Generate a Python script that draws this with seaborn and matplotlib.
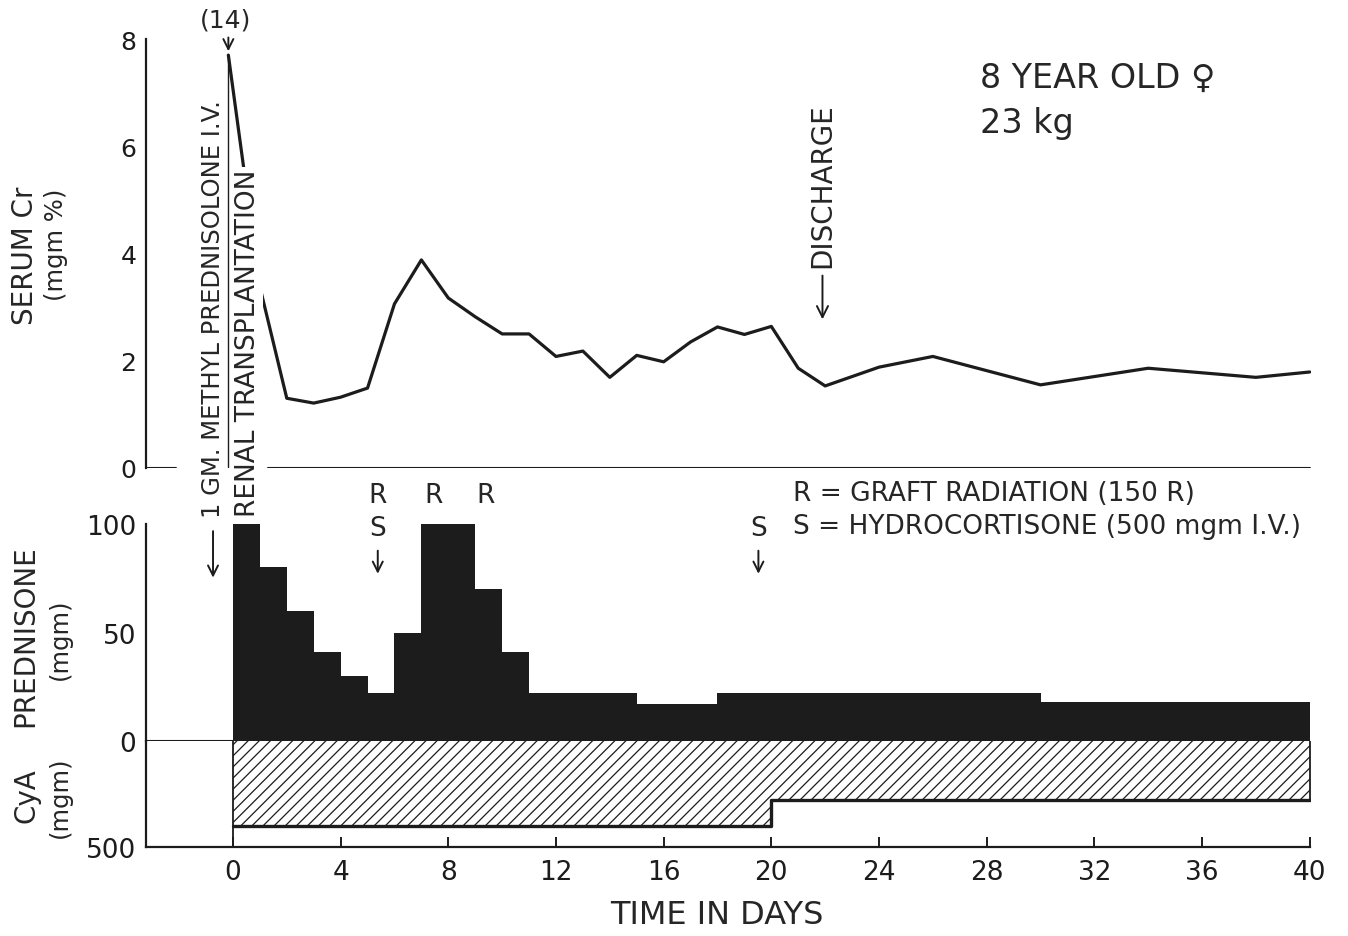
import matplotlib
matplotlib.use("Agg")
import matplotlib.pyplot as plt
import seaborn as sns

# serum creatinine (mgm %); first point is the off-scale (14) value, drawn at the top
cr_days = [-0.17, 1, 2, 3, 4, 5, 6, 7, 8, 9, 10, 11, 12, 13, 14, 15, 16, 17, 18, 19, 20,
           21, 22, 24, 26, 30, 34, 38, 40]
cr_vals = [7.7, 3.38, 1.30, 1.21, 1.32, 1.49, 3.06, 3.88, 3.17, 2.82, 2.5, 2.5, 2.08, 2.18,
           1.69, 2.1, 1.98, 2.35, 2.63, 2.49, 2.64, 1.86, 1.53, 1.88, 2.08, 1.55, 1.86, 1.69, 1.79]

# prednisone (mgm), step starts
pred_days = [0, 1, 2, 3, 4, 5, 6, 7, 9, 10, 11, 15, 18, 30, 40]
pred_dose = [100, 80, 60, 41, 30, 22, 50, 100, 70, 41, 22, 17, 22, 18, 18]

# cyclosporin A (mgm), step starts
cya_days = [0, 20, 40]
cya_dose = [400, 280, 280]

# event markers
r_days = [5.38, 7.46, 9.39]
s_days = [5.38, 19.52]
discharge_day = 21.9
methylpred_day = -0.74

x_ticks = list(range(0, 41, 4))

sns.set_theme(style="white")
plt.rcParams["font.family"] = ["DejaVu Sans"]
plt.rcParams["hatch.color"] = "black"
plt.rcParams["hatch.linewidth"] = 0.9

INK = "#1c1c1c"
XMIN, XMAX = -3.23, 40.05

fig = plt.figure(figsize=(13.48, 9.37), dpi=100)
ax_cr = fig.add_axes([0.1083, 0.4995, 0.8643, 0.4578])
ax_pr = fig.add_axes([0.1083, 0.2081, 0.8643, 0.2316])
ax_cy = fig.add_axes([0.1083, 0.0950, 0.8643, 0.1131])

for ax in (ax_cr, ax_pr, ax_cy):
    ax.set_xlim(XMIN, XMAX)
    ax.set_facecolor("none")
    for s in ("top", "right", "bottom"):
        ax.spines[s].set_visible(False)
    ax.spines["left"].set_linewidth(1.6)
    ax.spines["left"].set_color(INK)
    ax.tick_params(axis="y", direction="in", length=6, width=1.4, color=INK,
                   labelsize=19, pad=7, labelcolor=INK)
    ax.set_xticks([])

##### serum creatinine #####
sns.lineplot(x=cr_days, y=cr_vals, ax=ax_cr, color=INK, lw=2.3, sort=False, zorder=2)
ax_cr.set_ylim(0, 8)
ax_cr.set_yticks([0, 2, 4, 6, 8])
ax_cr.set_yticklabels(["0", "2", "4", "6", "8"], fontsize=18)
ax_cr.plot([XMIN, -2.1], [0, 0], color=INK, lw=1.5)
ax_cr.plot([1.3, 40], [0, 0], color=INK, lw=1.5)
# divider between the two day-0 notes
ax_cr.plot([-0.17, -0.17], [7.7, 0.02], color=INK, lw=1.0)

ax_cr.text(-0.26, 8.36, "(14)", fontsize=18, ha="center", va="center", clip_on=False)
ax_cr.annotate("", xy=(-0.17, 7.72), xytext=(-0.17, 8.08),
               arrowprops=dict(arrowstyle="->", color=INK, lw=1.4, mutation_scale=18),
               annotation_clip=False)

ax_cr.text(methylpred_day, 2.99, "1 GM. METHYL PREDNISOLONE I.V.", rotation=90,
           fontsize=17.5, ha="center", va="center", clip_on=False, zorder=5)
ax_cr.text(0.56, 2.34, "RENAL TRANSPLANTATION", rotation=90, fontsize=19,
           ha="center", va="center", clip_on=False, zorder=5,
           bbox=dict(facecolor="white", edgecolor="none", pad=1.5))

ax_cr.text(discharge_day, 5.28, "DISCHARGE", rotation=90, fontsize=20,
           ha="center", va="center")
ax_cr.annotate("", xy=(discharge_day, 2.72), xytext=(discharge_day, 3.64),
               arrowprops=dict(arrowstyle="->", color=INK, lw=1.4, mutation_scale=20))

ax_cr.text(27.76, 7.11, "8 YEAR OLD \u2640", fontsize=24, ha="left", va="baseline")
ax_cr.text(27.76, 6.27, "23 kg", fontsize=24, ha="left", va="baseline")

##### prednisone #####
ax_pr.fill_between(pred_days, 0, pred_dose, step="post", color=INK, lw=0)
ax_pr.set_ylim(0, 100)
ax_pr.set_yticks([0, 50, 100])
ax_pr.set_yticklabels(["0", "50", "100"])
ax_pr.plot([XMIN, 0], [0, 0], color=INK, lw=1.5)

for d in r_days:
    ax_pr.text(d, 113.4, "R", fontsize=19, ha="center", va="center", clip_on=False)
for d in s_days:
    ax_pr.text(d, 98.2, "S", fontsize=19, ha="center", va="center", clip_on=False)
    ax_pr.annotate("", xy=(d, 75.8), xytext=(d, 89.0),
                   arrowprops=dict(arrowstyle="->", color=INK, lw=1.4, mutation_scale=18),
                   annotation_clip=False)
ax_pr.annotate("", xy=(methylpred_day, 74), xytext=(methylpred_day, 98),
               arrowprops=dict(arrowstyle="->", color=INK, lw=1.4, mutation_scale=18),
               annotation_clip=False)

ax_pr.text(20.82, 114.3, "R = GRAFT RADIATION (150 R)", fontsize=19,
           ha="left", va="center", clip_on=False)
ax_pr.text(20.82, 99.1, "S = HYDROCORTISONE (500 mgm I.V.)", fontsize=19,
           ha="left", va="center", clip_on=False)

##### cyclosporin A #####
ax_cy.fill_between(cya_days, 0, cya_dose, step="post", facecolor="white",
                   edgecolor=INK, hatch="///", lw=0)
ax_cy.step(cya_days, cya_dose, where="post", color=INK, lw=2.4)
ax_cy.plot([40, 40], [0, cya_dose[-1]], color=INK, lw=1.3)
ax_cy.plot([0, 0], [0, 500], color=INK, lw=1.3)
ax_cy.set_ylim(500, 0)
ax_cy.set_yticks([500])
ax_cy.set_yticklabels(["500"])

ax_cy.spines["bottom"].set_visible(True)
ax_cy.spines["bottom"].set_linewidth(1.6)
ax_cy.spines["bottom"].set_color(INK)
ax_cy.spines["bottom"].set_bounds(XMIN, 40)
ax_cy.set_xticks(x_ticks)
ax_cy.set_xticklabels([str(t) for t in x_ticks])
ax_cy.tick_params(axis="x", direction="in", length=7, width=1.4, color=INK,
                  labelsize=19, pad=9, labelcolor=INK, bottom=True)

##### axis titles #####
W, H = 1348, 937
def fx(px):
    return px / W
def fy(py):
    return 1 - py / H

fig.text(fx(25), fy(256), "SERUM Cr", rotation=90, fontsize=20, ha="center", va="center")
fig.text(fx(56), fy(245), "(mgm %)", rotation=90, fontsize=17.5, ha="center", va="center")
fig.text(fx(25), fy(636), "PREDNISONE", rotation=90, fontsize=20, ha="center", va="center")
fig.text(fx(60), fy(639), "(mgm)", rotation=90, fontsize=17.5, ha="center", va="center")
fig.text(fx(26), fy(796), "CyA", rotation=90, fontsize=20, ha="center", va="center")
fig.text(fx(60), fy(797), "(mgm)", rotation=90, fontsize=17.5, ha="center", va="center")
fig.text(fx(717), fy(916), "TIME IN DAYS", fontsize=23, ha="center", va="center")

fig.savefig("out.png", dpi=100, facecolor="white")
